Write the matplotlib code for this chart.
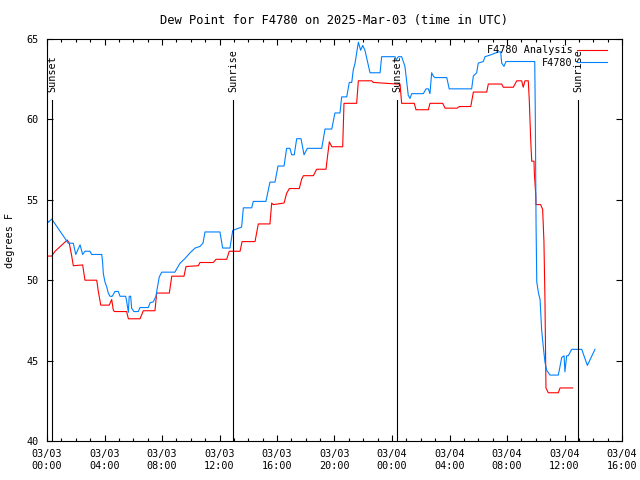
import numpy as np
import pandas as pd
import matplotlib; matplotlib.use("Agg")
import matplotlib.pyplot as plt
import matplotlib.dates as mdates

START = pd.Timestamp("2025-03-03 00:00")

# F4780 observed dew point (hours after start, deg F)
obs_h = [0.0, 0.09, 0.33, 1.48, 1.83, 2.00, 2.30, 2.48, 2.64, 2.99, 3.11, 3.81, 3.87, 3.92,
         4.03, 4.15, 4.26, 4.38, 4.54, 4.73, 4.96, 5.08, 5.47, 5.54, 5.66, 5.72, 5.82, 5.89,
         6.05, 6.35, 6.47, 7.05, 7.17, 7.39, 7.58, 7.67, 7.81, 7.98, 8.90, 9.02, 9.25, 9.60,
         9.95, 10.30, 10.64, 10.85, 10.99, 12.03, 12.22, 12.73, 12.92, 13.54, 13.66, 14.24,
         14.35, 15.23, 15.51, 15.86, 16.07, 16.49, 16.67, 16.90, 17.02, 17.20, 17.37, 17.67,
         17.88, 18.11, 19.11, 19.34, 19.81, 20.03, 20.38, 20.50, 20.85, 21.03, 21.20, 21.31,
         21.43, 21.66, 21.82, 21.96, 22.12, 22.47, 23.17, 23.28, 24.21, 24.28, 24.44, 24.67,
         24.90, 25.13, 25.25, 25.37, 26.18, 26.37, 26.53, 26.64, 26.76, 26.87, 26.99, 27.81,
         27.98, 29.54, 29.66, 29.89, 30.00, 30.35, 30.47, 30.82, 31.40, 31.56, 31.63, 31.79,
         31.93, 33.93, 33.97, 34.02, 34.07, 34.19, 34.30, 34.41, 34.52, 34.64, 34.76, 34.99,
         35.57, 35.81, 35.97, 36.03, 36.15, 36.26, 36.50, 37.20, 37.59, 38.12]
obs_t = [53.8, 53.6, 53.8, 52.3, 52.3, 51.6, 52.2, 51.6, 51.8, 51.8, 51.6, 51.6, 51.1, 50.4,
         49.9, 49.6, 49.2, 49.0, 49.0, 49.3, 49.3, 49.0, 49.0, 48.7, 48.0, 49.0, 49.0, 48.25,
         48.05, 48.05, 48.3, 48.3, 48.6, 48.65, 49.0, 49.5, 50.2, 50.5, 50.5, 50.7, 51.05, 51.35,
         51.7, 52.0, 52.1, 52.3, 53.0, 53.0, 52.0, 52.0, 53.1, 53.3, 54.5, 54.5,
         54.9, 54.9, 56.1, 56.1, 57.1, 57.1, 58.2, 58.2, 57.8, 57.8, 58.8, 58.8,
         57.8, 58.2, 58.2, 59.4, 59.4, 60.4, 60.4, 61.4, 61.4, 62.3, 62.3, 63.1,
         63.5, 64.8, 64.3, 64.6, 64.3, 62.9, 62.9, 63.9, 63.9, 63.7, 63.9, 63.9,
         63.3, 61.5, 61.3, 61.6, 61.6, 61.9, 61.9, 61.6, 62.9, 62.7, 62.6, 62.6,
         61.9, 61.9, 62.7, 62.9, 63.5, 63.6, 63.9, 64.0, 64.2, 64.2, 63.5, 63.3,
         63.6, 63.6, 60.2, 53.6, 49.9, 49.2, 48.8, 46.9, 45.9, 44.9, 44.4, 44.1,
         44.1, 45.2, 45.3, 44.3, 45.3, 45.3, 45.7, 45.7, 44.7, 45.7]

# F4780 Analysis dew point
ana_h = [0.0, 0.33, 0.56, 1.41, 1.55, 1.72, 1.83, 2.48, 2.64, 3.46, 3.57, 3.74, 4.33, 4.50,
         4.61, 4.68, 5.54, 5.66, 6.47, 6.70, 7.51, 7.63, 8.51, 8.68, 9.53, 9.67, 10.53, 10.64,
         11.57, 11.76, 12.50, 12.68, 13.43, 13.57, 14.47, 14.70, 15.51, 15.63, 15.74, 16.49,
         16.67, 16.86, 17.55, 17.72, 17.84, 18.53, 18.76, 19.41, 19.50, 19.64, 19.81, 20.57,
         20.66, 21.54, 21.66, 22.59, 22.70, 24.32, 24.56, 24.67, 25.55, 25.67, 26.53, 26.64,
         27.53, 27.69, 28.54, 28.68, 29.48, 29.66, 30.59, 30.70, 31.63, 31.74, 32.44, 32.68,
         33.02, 33.13, 33.25, 33.48, 33.55, 33.65, 33.72, 33.88, 33.90, 34.00, 34.02, 34.34,
         34.48, 34.57, 34.64, 34.71, 34.87, 35.57, 35.69, 36.57]
ana_t = [51.5, 51.5, 51.8, 52.5, 52.3, 51.5, 50.9, 50.95, 50.0, 50.0, 49.3, 48.45, 48.45, 48.8,
         48.15, 48.05, 48.05, 47.6, 47.6, 48.1, 48.1, 49.2, 49.2, 50.25, 50.25, 50.85, 50.9, 51.1,
         51.1, 51.3, 51.3, 51.8, 51.8, 52.4, 52.4, 53.5, 53.5, 54.8, 54.7, 54.8,
         55.4, 55.7, 55.7, 56.3, 56.5, 56.5, 56.9, 56.9, 57.6, 58.6, 58.3, 58.3,
         61.0, 61.0, 62.4, 62.4, 62.3, 62.2, 62.2, 61.0, 61.0, 60.6, 60.6, 61.0,
         61.0, 60.7, 60.7, 60.8, 60.8, 61.7, 61.7, 62.2, 62.2, 62.0, 62.0, 62.4,
         62.4, 62.0, 62.4, 62.4, 61.2, 58.7, 57.4, 57.4, 56.7, 55.3, 54.7, 54.7,
         54.4, 52.4, 48.8, 43.3, 43.0, 43.0, 43.3, 43.3]

# sun events (hours after start)
sun_h = [0.35, 12.94, 24.35, 36.94]
sun_lbl = ["Sunset", "Sunrise", "Sunset", "Sunrise"]

to_time = lambda h: START + pd.to_timedelta(np.array(h), unit="h")

plt.rcParams["font.family"] = ["DejaVu Sans Mono"]
plt.rcParams["font.size"] = 7.3

fig = plt.figure(figsize=(6.4, 4.8), dpi=100)
ax = fig.add_axes([47/640, 39/480, 575/640, 402/480])

ax.plot(to_time(ana_h), ana_t, color="#ff0000", lw=0.8, label="F4780 Analysis")
ax.plot(to_time(obs_h), obs_t, color="#0080ff", lw=0.8, label="F4780")

for h, lbl in zip(sun_h, sun_lbl):
    t = to_time([h])[0]
    ax.plot([t, t], [40, 61.2], color="black", lw=0.8)
    ax.text(t, 61.7, lbl, rotation=90, ha="center", va="bottom")

ax.set_xlim(START, START + pd.Timedelta(hours=40))
ax.set_ylim(40, 65)
ax.xaxis.set_major_locator(mdates.HourLocator(byhour=range(0, 24, 4)))
ax.xaxis.set_minor_locator(mdates.HourLocator())
ax.xaxis.set_major_formatter(mdates.DateFormatter("%m/%d\n%H:%M"))
ax.set_yticks(np.arange(40, 66, 5))
ax.tick_params(which="both", direction="in", top=True, right=True, width=0.8)
ax.tick_params(which="major", length=4.5, pad=6)
ax.tick_params(which="minor", length=2.5)
for s in ax.spines.values():
    s.set_linewidth(0.8)

ax.set_ylabel("degrees F")
ax.yaxis.set_label_coords(-0.055, 0.5)
ax.set_title("Dew Point for F4780 on 2025-Mar-03 (time in UTC)", pad=11)
ax.legend(loc="upper right", frameon=False, markerfirst=False, handlelength=3.0,
          labelspacing=0.25, borderaxespad=0.2, bbox_to_anchor=(0.985, 1.0),
          handletextpad=0.4)

plt.savefig("out.png", dpi=100)
